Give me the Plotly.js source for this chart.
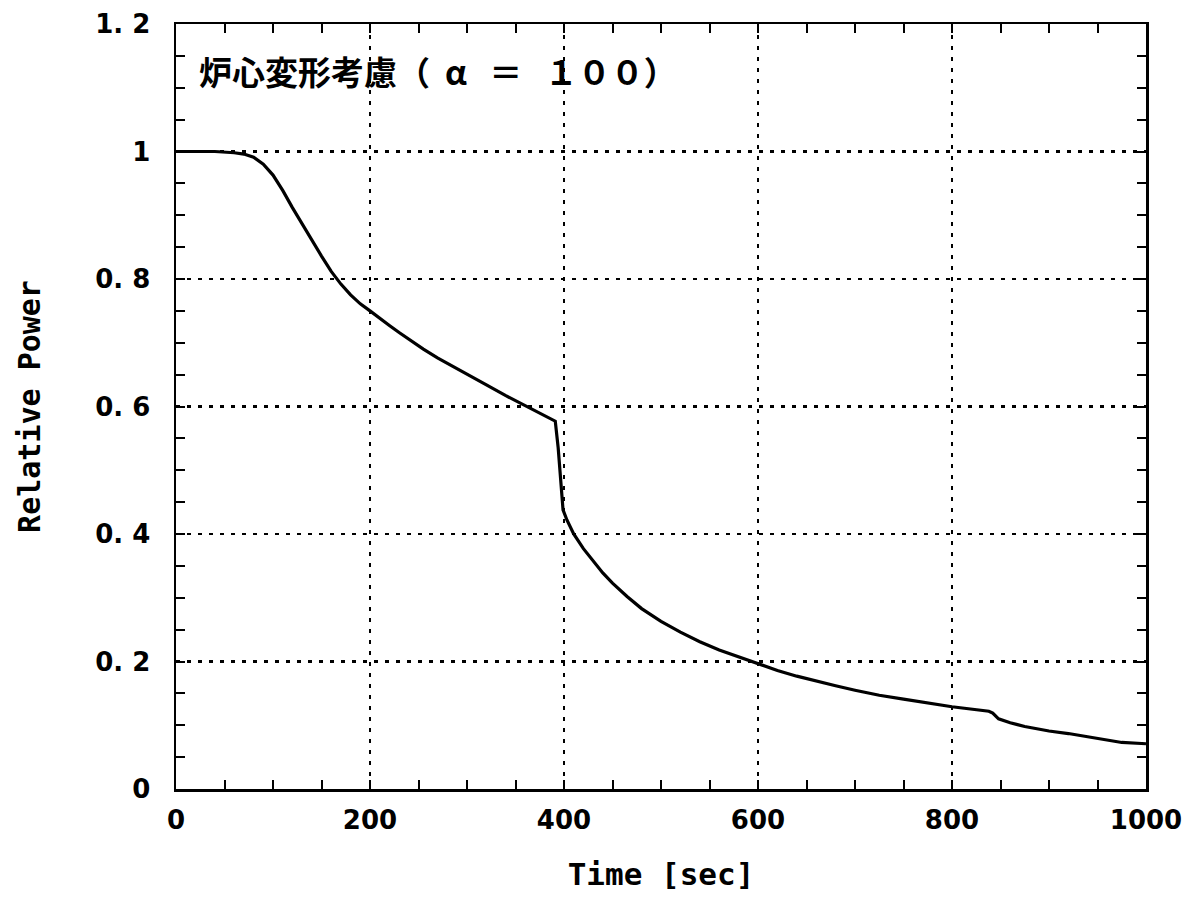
<!DOCTYPE html>
<html><head><meta charset="utf-8">
<script src="https://cdn.plot.ly/plotly-3.0.1.min.js"></script>
<style>html,body{margin:0;padding:0;background:#fff}#chart{width:1191px;height:921px}</style>
</head><body><div id="chart"></div>
<script>
const timeSec = [0, 20, 40, 60, 70, 80, 90, 100, 110, 120, 130, 140, 150, 160, 170, 180, 190, 200, 210, 220, 230, 240, 255, 270, 285, 300, 320, 340, 358, 375, 391, 394, 397, 399, 403, 410, 420, 430, 440, 450, 465, 480, 500, 520, 540, 560, 580, 600, 620, 640, 660, 680, 700, 725, 750, 775, 800, 838, 842, 848, 860, 875, 900, 920, 950, 975, 1000];
const relPower = [1.0, 1.0, 1.0, 0.998, 0.996, 0.991, 0.980, 0.963, 0.939, 0.912, 0.886, 0.861, 0.836, 0.812, 0.792, 0.775, 0.761, 0.750, 0.738, 0.727, 0.716, 0.705, 0.690, 0.676, 0.663, 0.651, 0.634, 0.617, 0.603, 0.590, 0.577, 0.535, 0.485, 0.438, 0.422, 0.400, 0.377, 0.357, 0.339, 0.323, 0.302, 0.283, 0.263, 0.246, 0.231, 0.218, 0.207, 0.196, 0.186, 0.177, 0.169, 0.162, 0.155, 0.147, 0.141, 0.135, 0.129, 0.122, 0.119, 0.110, 0.104, 0.098, 0.091, 0.087, 0.080, 0.073, 0.071];
const xTickVals = [0, 200, 400, 600, 800, 1000];
const xTickText = ["0", "200", "400", "600", "800", "1000"];
const yTickVals = [0, 0.2, 0.4, 0.6, 0.8, 1, 1.2];
const yTickText = ["0", "0. 2", "0. 4", "0. 6", "0. 8", "1", "1. 2"];
const chartLabel = "炉心変形考慮（\u00A0\u00A0α\u00A0\u00A0\u00A0＝\u00A0\u00A0\u00A0１００）";

const tickFont = {family: "DejaVu Sans", size: 26, color: "#000", weight: "bold"};
const axisCommon = {
  showline: true, linecolor: "#000", linewidth: 2.5, mirror: "ticks",
  ticks: "inside", ticklen: 9, tickwidth: 2, tickcolor: "#000",
  showgrid: true, gridcolor: "#000", gridwidth: 2.5, griddash: "4px,7px",
  zeroline: false, tickfont: tickFont, tickmode: "array"
};
const layout = {
  width: 1191, height: 921,
  margin: {l: 176, r: 45, t: 24, b: 132},
  paper_bgcolor: "#fff", plot_bgcolor: "#fff",
  showlegend: false,
  xaxis: Object.assign({}, axisCommon, {
    range: [0, 1000], tickvals: xTickVals, ticktext: xTickText,
    minor: {dtick: 50, tick0: 0, ticks: "inside", ticklen: 9, tickwidth: 2, tickcolor: "#000", showgrid: false},
    ticklabelstandoff: 6,
    title: {text: "Time [sec]", font: {family: "DejaVu Sans Mono", size: 31, color: "#000", weight: "bold"}, standoff: 30}
  }),
  yaxis: Object.assign({}, axisCommon, {
    range: [0, 1.2], tickvals: yTickVals, ticktext: yTickText,
    minor: {dtick: 0.05, tick0: 0, ticks: "inside", ticklen: 9, tickwidth: 2, tickcolor: "#000", showgrid: false},
    ticklabelstandoff: 18,
    title: {text: "Relative Power", font: {family: "DejaVu Sans Mono", size: 30, color: "#000", weight: "bold"}, standoff: 46}
  }),
  annotations: [{
    xref: "x", yref: "y", x: 22, y: 1.127, xanchor: "left", yanchor: "middle",
    text: chartLabel, showarrow: false,
    font: {family: "Noto Sans CJK JP", size: 33, color: "#000", weight: "bold"}
  }]
};
const data = [{
  x: timeSec, y: relPower, type: "scatter", mode: "lines",
  line: {color: "#000", width: 3.2}
}];
Plotly.newPlot("chart", data, layout, {displayModeBar: false, staticPlot: true});
</script></body></html>
